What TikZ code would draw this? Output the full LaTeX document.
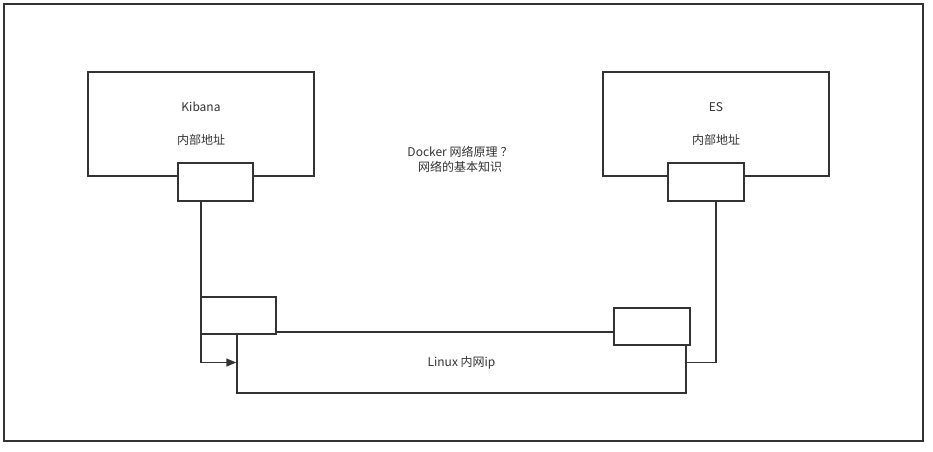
\documentclass[tikz,border=0pt]{standalone}
\usepackage{fontspec}
\setmainfont{Noto Sans CJK SC}
\usepackage{xcolor}
\definecolor{Ink}{HTML}{333333}
\usepackage{tikz}
\usetikzlibrary{arrows.meta,positioning}

\begin{document}
\begin{tikzpicture}[
  x=1pt, y=-1pt,
  font=\fontsize{12}{14.4}\selectfont, text=Ink,
  box/.style={draw=Ink, line width=1.5pt, fill=white, align=center,
              inner sep=0pt},
  port/.style={box, minimum width=75pt, minimum height=38pt},
  wire/.style={draw=Ink, line width=1.5pt},
  arr/.style={wire, -{Triangle[length=10pt,width=8pt]}}
]
  \useasboundingbox (0,0) rectangle (933,451);
  \draw[Ink, line width=2pt, fill=white] (4,4) rectangle (923,441);

  \node[box, minimum width=226pt, minimum height=104pt] at (201,124)
    (kibana) {Kibana\\[18.6pt]内部地址};
  \node[box, minimum width=226pt, minimum height=104pt] at (716,124)
    (es) {ES\\[18.6pt]内部地址};
  \node[port] at (215.5,182) (kport) {};
  \node[port, minimum width=76pt] at (706,182) (esport) {};

  \node[align=center] at (460,159.5) (title)
    {Docker 网络原理\hspace{3pt}？\\网络的基本知识};

  \node[box, minimum width=449pt, minimum height=61pt] at (461.5,362.5)
    (linux) {Linux 内网ip};
  \node[port, minimum height=37pt] at (238.5,315.5) (lport) {};
  \node[port, minimum width=76pt, minimum height=37pt] at (652,326.5) (rport) {};

  \draw[arr] (kport.south -| kibana.center) |- (linux.west);
  \draw[wire] (esport.south -| es.center) |- (linux.east);
\end{tikzpicture}
\end{document}
